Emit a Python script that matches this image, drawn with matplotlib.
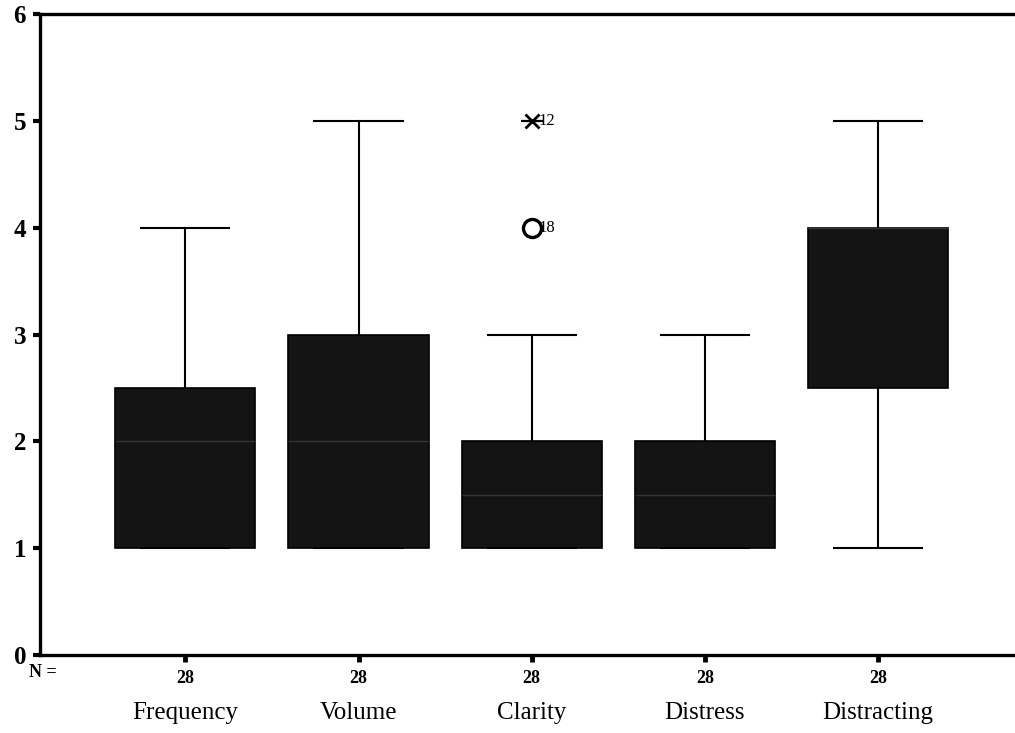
import matplotlib.pyplot as plt
import matplotlib.transforms as mtransforms

# ==========================================
# 1. Data
# ==========================================
categories = ['Frequency', 'Volume', 'Clarity', 'Distress', 'Distracting']
n_counts = [28, 28, 28, 28, 28]
whisker_lo = [1, 1, 1, 1, 1]
q1 = [1, 1, 1, 1, 2.5]
medians = [2, 2, 1.5, 1.5, 4]
q3 = [2.5, 3, 2, 2, 4]
whisker_hi = [4, 5, 3, 3, 5]

# outliers: (category index, value, case label, marker)
outlier_cat = [3, 3]
outlier_val = [5, 4]
outlier_case = ['12', '18']
outlier_marker = ['x', 'o']

plt.rcParams['font.family'] = ['Liberation Serif', 'DejaVu Serif']

# ==========================================
# 2. Plot
# ==========================================
fig = plt.figure(figsize=(10.15, 7.33), dpi=100)
ax = fig.add_axes([0.0394, 0.1064, 0.9606, 0.8745])

stats = []
for i, name in enumerate(categories):
    stats.append({'label': name, 'whislo': whisker_lo[i], 'q1': q1[i],
                  'med': medians[i], 'q3': q3[i], 'whishi': whisker_hi[i]})

positions = list(range(1, len(categories) + 1))
ax.bxp(stats, positions=positions, widths=0.81, showfliers=False, patch_artist=True,
       boxprops=dict(facecolor='#141414', edgecolor='#000000', linewidth=1.2),
       medianprops=dict(color='#333333', linewidth=1.0),
       whiskerprops=dict(color='black', linewidth=1.5),
       capprops=dict(color='black', linewidth=1.5),
       capwidths=0.51)

for c, v, lab, m in zip(outlier_cat, outlier_val, outlier_case, outlier_marker):
    if m == 'o':
        ax.plot(c, v, marker='o', ms=13, mfc='white', mec='black', mew=2.4, zorder=5)
    else:
        ax.plot(c, v, marker='x', ms=10, color='black', mew=2.0, zorder=5)
        ax.plot(c, v, marker='_', ms=16, color='black', mew=1.6, zorder=5)
    ax.text(c + 0.04, v, lab, fontsize=12, va='center', ha='left')

ax.set_xlim(0.161, 5.79)
ax.set_ylim(0, 6)

ax.set_yticks(range(0, 7))
ax.set_yticklabels([str(t) for t in range(0, 7)], fontsize=18, fontweight='bold')
ax.tick_params(axis='y', length=5, width=3, pad=5)
ax.set_xticks(positions)
ax.set_xticklabels([str(n) for n in n_counts], fontsize=13, fontweight='bold')
ax.tick_params(axis='x', length=5, width=3.5, pad=6)

for side in ['left', 'top', 'bottom']:
    ax.spines[side].set_linewidth(2.4)
ax.spines['right'].set_visible(False)

trans = mtransforms.blended_transform_factory(ax.transData, ax.transAxes)
for p, name in zip(positions, categories):
    ax.text(p, -0.09, name, transform=trans, ha='center', va='center', fontsize=18)
ax.text(0.003, -0.027, 'N =', transform=ax.transAxes, ha='center', va='center',
        fontsize=13, fontweight='bold')

fig.savefig('out.png', dpi=100)
